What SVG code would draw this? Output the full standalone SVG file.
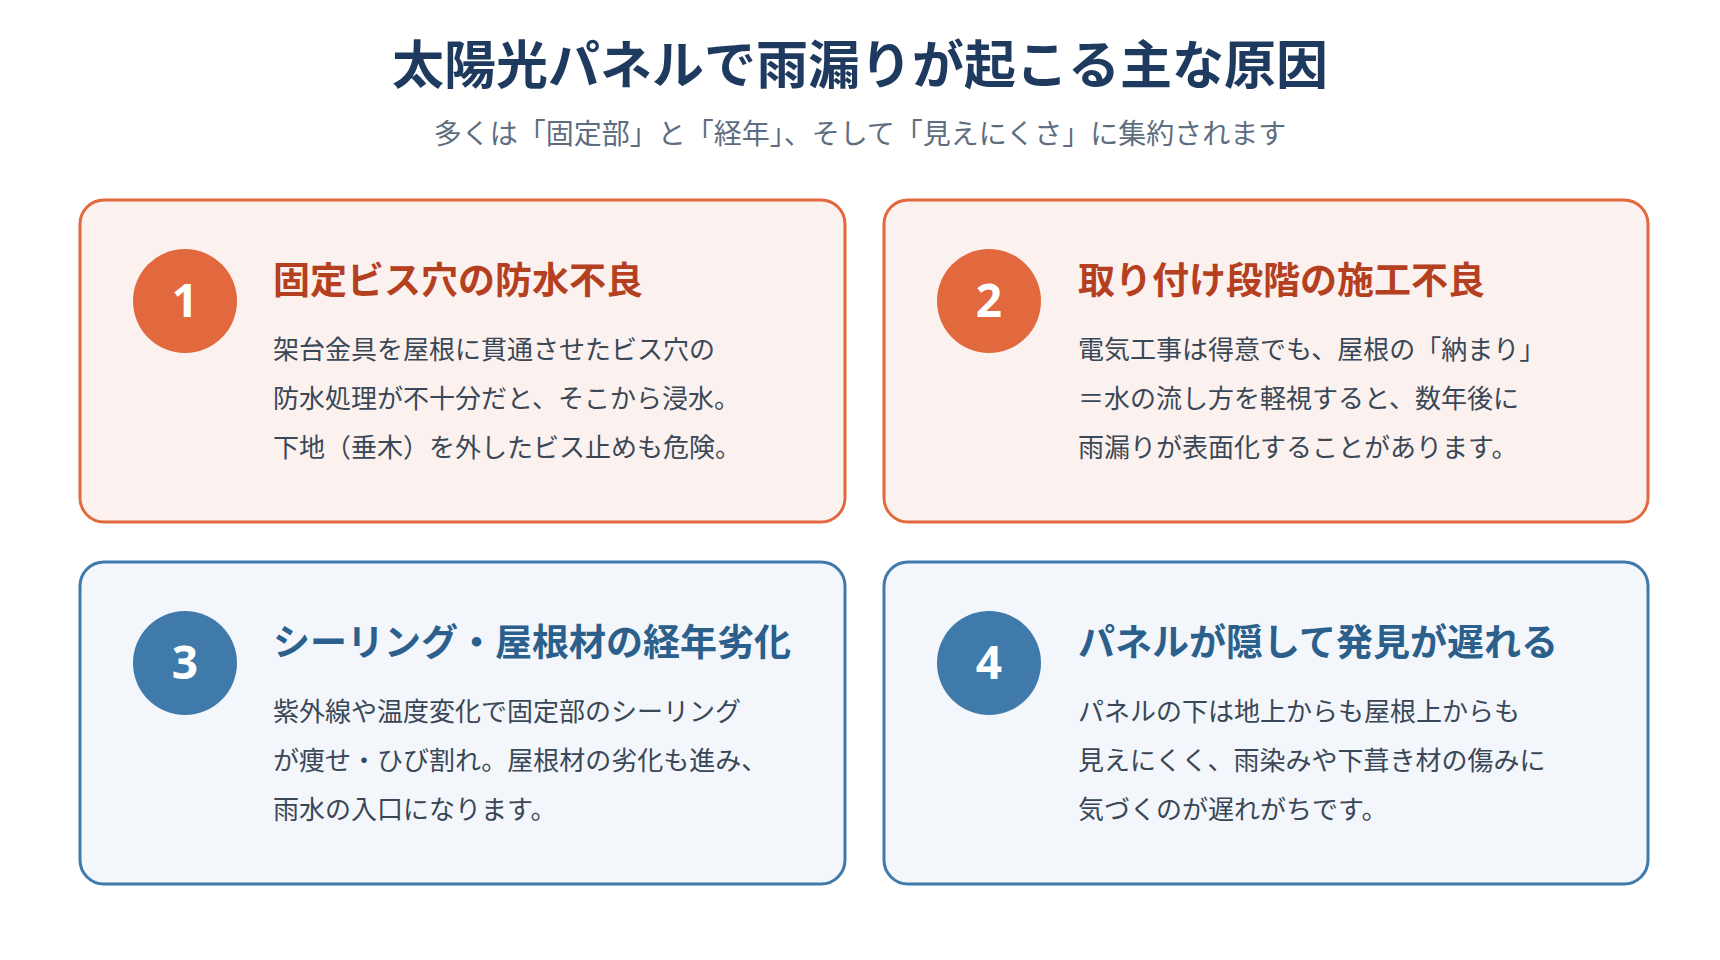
<svg xmlns="http://www.w3.org/2000/svg" width="1720" height="960" viewBox="0 0 1720 960">
<style>
text{font-family:"Noto Sans CJK JP","Noto Sans",sans-serif}
.t{font-size:52px;font-weight:700;fill:#1F3A5F;text-anchor:middle}
.s{font-size:28px;fill:#5E6E80;text-anchor:middle}
.co{fill:#FBF1EE;stroke:#E2693D;stroke-width:3}
.cb{fill:#F3F6FA;stroke:#3F7AAB;stroke-width:3}
.no{fill:#E2693D}.nb{fill:#3F7AAB}
.n{font-size:46px;font-weight:700;fill:#fff;text-anchor:middle;font-family:"Noto Sans",sans-serif}
.ho{font-size:37px;font-weight:700;fill:#B5401F}
.hb{font-size:37px;font-weight:700;fill:#2B5F8C}
.b{font-size:26px;fill:#3A4756}
</style>
<rect width="1720" height="960" fill="#fff"/>
<text class="t" x="860" y="84">太陽光パネルで雨漏りが起こる主な原因</text>
<text class="s" x="860" y="144">多くは「固定部」と「経年」、そして「見えにくさ」に集約されます</text>
<g id="connectors"/>
<g id="card1">
<rect class="co" x="80" y="200" width="765" height="322" rx="24"/>
<circle class="no" cx="185" cy="301" r="52"/>
<text class="n" x="185" y="317">1</text>
<text class="ho" x="273" y="294">固定ビス穴の防水不良</text>
<text class="b" x="273" y="359">架台金具を屋根に貫通させたビス穴の</text>
<text class="b" x="273" y="408">防水処理が不十分だと、そこから浸水。</text>
<text class="b" x="273" y="457">下地（垂木）を外したビス止めも危険。</text>
</g>
<g id="card2">
<rect class="co" x="884" y="200" width="764" height="322" rx="24"/>
<circle class="no" cx="989" cy="301" r="52"/>
<text class="n" x="989" y="317">2</text>
<text class="ho" x="1078" y="294">取り付け段階の施工不良</text>
<text class="b" x="1078" y="359">電気工事は得意でも、屋根の「納まり」</text>
<text class="b" x="1078" y="408">＝水の流し方を軽視すると、数年後に</text>
<text class="b" x="1078" y="457">雨漏りが表面化することがあります。</text>
</g>
<g id="card3">
<rect class="cb" x="80" y="562" width="765" height="322" rx="24"/>
<circle class="nb" cx="185" cy="663" r="52"/>
<text class="n" x="185" y="679">3</text>
<text class="hb" x="273" y="656">シーリング・屋根材の経年劣化</text>
<text class="b" x="273" y="721">紫外線や温度変化で固定部のシーリング</text>
<text class="b" x="273" y="770">が痩せ・ひび割れ。屋根材の劣化も進み、</text>
<text class="b" x="273" y="819">雨水の入口になります。</text>
</g>
<g id="card4">
<rect class="cb" x="884" y="562" width="764" height="322" rx="24"/>
<circle class="nb" cx="989" cy="663" r="52"/>
<text class="n" x="989" y="679">4</text>
<text class="hb" x="1078" y="656">パネルが隠して発見が遅れる</text>
<text class="b" x="1078" y="721">パネルの下は地上からも屋根上からも</text>
<text class="b" x="1078" y="770">見えにくく、雨染みや下葺き材の傷みに</text>
<text class="b" x="1078" y="819">気づくのが遅れがちです。</text>
</g>
</svg>
